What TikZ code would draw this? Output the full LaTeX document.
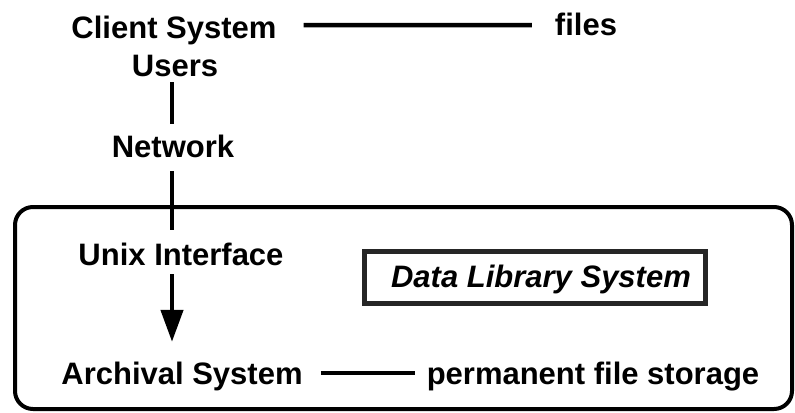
\documentclass[tikz,border=0pt]{standalone}
\usepackage{fontspec}
\setmainfont{Liberation Sans}
\usetikzlibrary{arrows.meta}
\begin{document}
\begin{tikzpicture}[x=1bp,y=-1bp,
  lbl/.style={font=\fontsize{31bp}{36bp}\selectfont\bfseries, inner sep=0pt,
              text height=22bp, text depth=6bp, anchor=base},
  conn/.style={line width=4.5bp},
  framebox/.style={line width=4bp, rounded corners=18bp},
  dlsframe/.style={draw=black!85, line width=5bp, minimum width=341bp,
                   minimum height=52bp, inner sep=0pt}]
\useasboundingbox (0,0) rectangle (795,412);
% outer frame
\draw[framebox] (15,207) rectangle (792,409);
% labels
\node[lbl] (cs) at (174,38) {Client System};
\node[lbl] (files) at (586,35) {files};
\node[lbl] (users) at (175,76) {Users};
\node[lbl] (net) at (173,157) {Network};
\node[lbl] (ux) at (181,265) {Unix Interface};
\node[lbl] (arch) at (182,384) {Archival System};
\node[lbl] (perm) at (593,384) {permanent file storage};
\node[dlsframe] (dlsbox) at (535,277.5) {};
\node[lbl, font=\fontsize{31bp}{36bp}\selectfont\bfseries\itshape] (dls) at (541,287) {Data Library System};
\coordinate (spine) at (172,0);
% connectors
\draw[conn] ([xshift=27bp,yshift=5bp]cs.east) -- ([xshift=-23bp,yshift=2bp]files.west);
\draw[conn] (users.south -| spine) -- ([yshift=11bp]net.north -| spine);
\draw[conn] ([yshift=-8bp]net.south -| spine) -- ([yshift=13bp]ux.north -| spine);
\draw[conn, -{Triangle[length=32bp,width=22bp]}] ([yshift=-3bp]ux.south -| spine) -- ([yshift=20bp]arch.north -| spine);
\draw[conn] ([xshift=18bp,yshift=3bp]arch.east) -- ([xshift=-12bp,yshift=3bp]perm.west);
\end{tikzpicture}
\end{document}
